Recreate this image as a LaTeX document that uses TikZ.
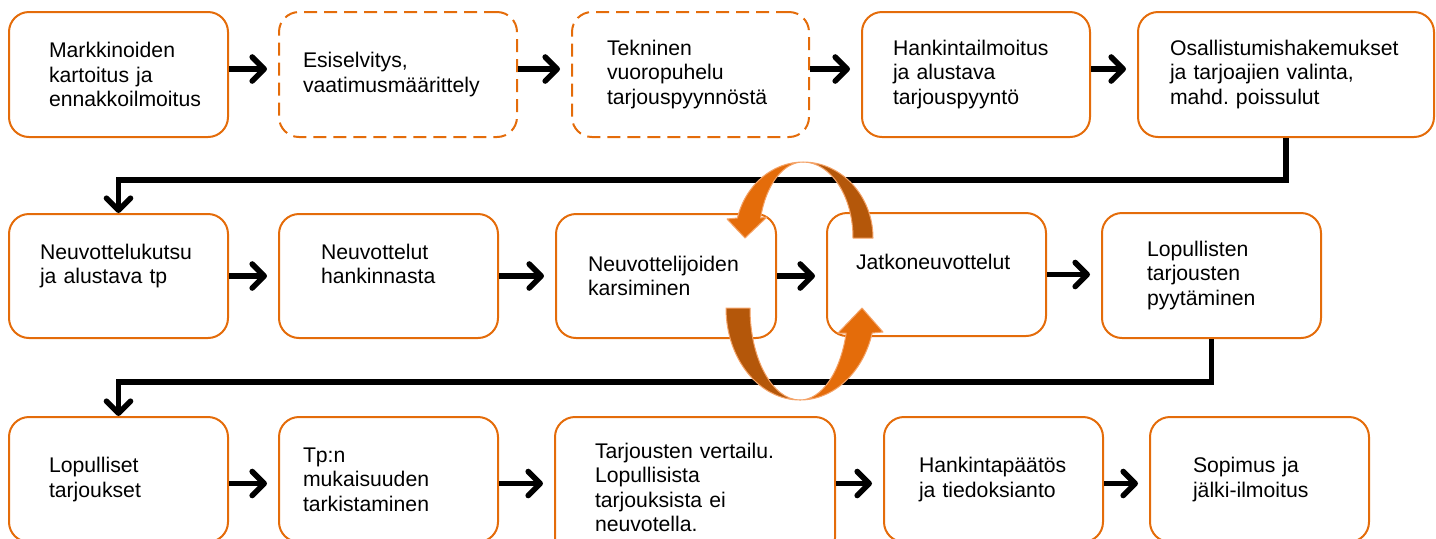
\documentclass[tikz,border=0pt]{standalone}
\usepackage{fontspec}
\setmainfont{Liberation Sans}
\usetikzlibrary{arrows.meta}
\definecolor{boxorange}{RGB}{228,108,10}
\definecolor{ringorange}{RGB}{228,108,10}
\definecolor{ringdark}{RGB}{180,87,10}
\definecolor{ringedge}{RGB}{244,163,104}
\hyphenpenalty=10000
\exhyphenpenalty=10000
\frenchspacing

\begin{document}
\begin{tikzpicture}[x=0.5pt,y=-0.5pt,
  >={Straight Barb[length=6pt,width=12pt,round]},
  phase/.style={draw=boxorange,line width=1pt,rounded corners=10pt,anchor=north west,
    minimum width=109.5pt,minimum height=62.5pt,inner sep=0pt,align=left,
    font=\fontsize{10.6}{12.25}\selectfont},
  plan/.style={phase,dash pattern=on 6.5pt off 3.5pt},
  flow/.style={->,line width=2.8pt,shorten >=5.5pt},
  link/.style={->,line width=2.8pt},
  ring/.style={draw=ringedge,line width=0.5pt,line join=round}]
  \useasboundingbox (0,0) rectangle (1436,538);

  \node[phase,text width=69.5pt] (mark) at (8,11) {Markkinoiden\\kartoitus ja\\ennakkoilmoitus};
  \node[plan,minimum width=119pt,text width=95pt] (esi) at (278,11) {Esiselvitys,\\vaatimusmäärittely};
  \node[plan,minimum width=118.5pt,text width=83.5pt] (tekn) at (571,11) {Tekninen\\vuoropuhelu\\tarjouspyynnöstä};
  \node[phase,minimum width=114pt,text width=83pt] (hank) at (861,11) {Hankintailmoitus\\ja alustava\\tarjouspyyntö};
  \node[phase,minimum width=148pt,text width=116pt] (osal) at (1137,11) {Osallistumishakemukset\\ja tarjoajien valinta,\\mahd. poissulut};

  \node[phase,minimum height=62pt,text width=78.5pt] (kutsu) at (8,213) {Neuvottelukutsu\\ja alustava tp\\\mbox{}};
  \node[phase,minimum height=62pt,text width=67.5pt] (neuv) at (278,213) {Neuvottelut\\hankinnasta\\\mbox{}};
  \node[phase,minimum width=110pt,minimum height=62pt,text width=78pt] (karsi) at (555,213) {Neuvottelijoiden\\karsiminen};
  \node[phase,minimum height=61.5pt,text width=80.5pt] (jatko) at (826,212) {Jatkoneuvottelut\\\mbox{}};
  \node[phase,text width=64.5pt] (lopten) at (1101,212) {Lopullisten\\tarjousten\\pyytäminen};

  \node[phase,text width=69.5pt] (lopulliset) at (8,416) {Lopulliset\\tarjoukset};
  \node[phase,text width=85.5pt] (tpn) at (278,416) {Tp:n\\mukaisuuden\\tarkistaminen};
  \node[phase,minimum width=140pt,minimum height=70.5pt,text width=100pt] (vert) at (554,416) {Tarjousten vertailu.\\Lopullisista\\tarjouksista ei\\neuvotella.};
  \node[phase,text width=74.5pt] (paatos) at (883,416) {Hankintapäätös\\ja tiedoksianto};
  \node[phase,text width=66.5pt] (sopimus) at (1149,416) {Sopimus ja\\jälki-ilmoitus};

  \draw[flow] ([yshift=2.75pt]mark.east) -- ([yshift=2.75pt]esi.west);
  \draw[flow] ([yshift=2.75pt]esi.east) -- ([yshift=2.75pt]tekn.west);
  \draw[flow] ([yshift=2.75pt]tekn.east) -- ([yshift=2.75pt]hank.west);
  \draw[flow] ([yshift=2.75pt]hank.east) -- ([yshift=2.75pt]osal.west);

  \draw[flow] (kutsu.east) -- (kutsu.east -| neuv.west);
  \draw[flow] (neuv.east) -- (neuv.east -| karsi.west);
  \draw[flow] (karsi.east) -- (karsi.east -| jatko.west);
  \draw[flow] (jatko.east) -- (jatko.east -| lopten.west);

  \draw[flow] ([yshift=-2pt]lopulliset.east) -- ([yshift=-2pt]lopulliset.east -| tpn.west);
  \draw[flow] ([yshift=-2pt]tpn.east) -- ([yshift=-2pt]tpn.east -| vert.west);
  \draw[flow] ([yshift=-2pt]paatos.west -| vert.east) -- ([yshift=-2pt]paatos.west);
  \draw[flow] ([yshift=-2pt]paatos.east) -- ([yshift=-2pt]paatos.east -| sopimus.west);

  \coordinate (bendA) at (0,180);
  \coordinate (bendB) at (0,382);
  \draw[link] (osal.south) -- (osal.south |- bendA) -| (kutsu.north);
  \draw[link] (lopten.south) -- (lopten.south |- bendB) -| (lopulliset.north);

  \path[ring,fill=ringdark] (803,162)
    arc[start angle=-90,end angle=0,x radius=70,y radius=76]
    -- (853,238) arc[start angle=0,end angle=-90,x radius=50,y radius=76] -- cycle;
  \path[ring,fill=ringorange] (803,162)
    arc[start angle=-90,end angle=-164.74,x radius=68,y radius=76]
    -- (727,219) -- (745,238) -- (767,217) -- (760.6,218)
    arc[start angle=-164.74,end angle=-90,x radius=44,y radius=76] -- cycle;
  \path[ring,fill=ringdark] (726,308)
    arc[start angle=180,end angle=90,x radius=74,y radius=92]
    arc[start angle=90,end angle=180,x radius=50,y radius=92] -- cycle;
  \path[ring,fill=ringorange] (800,400)
    arc[start angle=90,end angle=15.77,x radius=75,y radius=92]
    -- (883,332) -- (862,308) -- (838,333) -- (846.2,333)
    arc[start angle=15.77,end angle=90,x radius=48,y radius=92] -- cycle;
\end{tikzpicture}
\end{document}
